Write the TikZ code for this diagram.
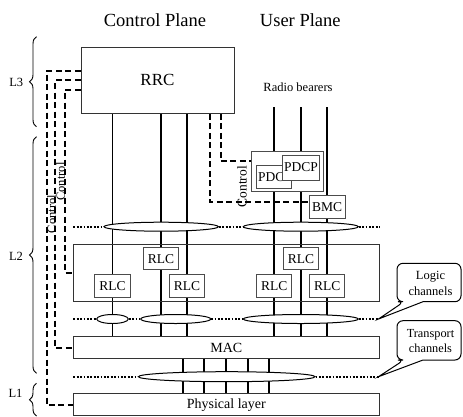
\documentclass[tikz,border=0pt]{standalone}
\usepackage{fontspec}
\setmainfont{Liberation Serif}
\usetikzlibrary{decorations.pathreplacing,calc,shapes.geometric,backgrounds}
\begin{document}
\begin{tikzpicture}[x=1pt,y=-1pt,
  bigbox/.style={draw=black!80, line width=1pt, inner sep=0pt, font=\fontsize{14}{16}\selectfont},
  box/.style={draw=black!70, line width=1pt, fill=white, inner sep=0pt, minimum width=35.4pt, minimum height=22.4pt, font=\fontsize{13.5}{15}\selectfont},
  chan/.style={line width=1.8pt},
  ctrl/.style={line width=2pt, dash pattern=on 6pt off 3.5pt},
  dots/.style={line width=2pt, dash pattern=on 1.8pt off 1.6pt},
  ell/.style={ellipse, draw, fill=white, line width=1pt, inner sep=0pt, minimum height=9pt},
  lbl/.style={font=\fontsize{12.5}{16}\selectfont, inner sep=0pt},
  callout/.style={line width=1pt},
  lbrace/.style={decorate, decoration={brace, amplitude=7pt}, line width=0.9pt}
]
\useasboundingbox (0,0) rectangle (463,416);

% titles
\node[anchor=base, font=\fontsize{18.5}{20}\selectfont, inner sep=0pt] (cp) at (155,26) {Control Plane};
\node[anchor=base, font=\fontsize{18.5}{20}\selectfont, inner sep=0pt] (up) at (300.3,26) {User Plane};

% layer braces
\node[anchor=base, lbl] (l3) at (16.3,86.7) {L3};
\node[anchor=base, lbl] (l2) at (16,260.7) {L2};
\node[anchor=base, lbl] (l1) at (15.5,397.5) {L1};
\coordinate (b3a) at (36.5,126.7); \coordinate (b3b) at (36.5,36.7);
\coordinate (b2a) at (36.5,373.3); \coordinate (b2b) at (36.5,136.7);
\coordinate (b1a) at (36.5,416);   \coordinate (b1b) at (36.5,383.3);
\draw[lbrace] (b3a) -- (b3b);
\draw[lbrace] (b2a) -- (b2b);
\draw[lbrace] (b1a) -- (b1b);

% main boxes
\node[bigbox, minimum width=153pt, minimum height=66.3pt, font=\fontsize{17}{18}\selectfont] (rrc) at (157.5,80.2) {RRC};
\node[anchor=base, lbl] (rb) at (298,91.7) {Radio bearers};
\node[bigbox, minimum width=306pt, minimum height=57.4pt] (cont) at (226.3,273) {};
\node[bigbox, fill=white, minimum width=306pt, minimum height=21.8pt] (mac) at (226.3,347.6) {MAC};
\node[bigbox, fill=white, minimum width=306pt, minimum height=21.5pt] (phy) at (226.3,404.7) {Physical layer};

% RLC boxes
\node[box] (rlcm1) at (160.9,258.7) {RLC};
\node[box] (rlcm2) at (300.9,258.7) {RLC};
\node[box] (rlc1) at (112.5,285.9) {RLC};
\node[box] (rlc2) at (187,285.9) {RLC};
\node[box] (rlc3) at (274.2,285.9) {RLC};
\node[box] (rlc4) at (327.2,285.9) {RLC};

% PDCP / BMC
\node[box, minimum width=71.6pt, minimum height=40pt] (pdcout) at (287.5,171.7) {};
\node[box, minimum width=35.7pt, minimum height=23.3pt, text depth=0pt] (pdcback) at (273.9,176.7) {\hspace*{2pt}PDCP};
\node[box, minimum width=36.6pt, minimum height=25pt] (pdcp) at (301,167.5) {PDCP};
\node[box, minimum width=35.7pt, minimum height=22.6pt] (bmc) at (327.2,207) {BMC};

% channel lines (behind boxes)
\coordinate (xa) at (112.4,0);
\coordinate (xb) at (161,0);
\coordinate (xc) at (186.8,0);
\coordinate (rb1) at (274,107);
\coordinate (rb2) at (300.8,107);
\coordinate (rb3) at (326.9,107);
\coordinate (t1) at (183,0);
\coordinate (t2) at (204.3,0);
\coordinate (t3) at (226,0);
\coordinate (t4) at (247.7,0);
\coordinate (t5) at (269.3,0);
\begin{pgfonlayer}{background}
\draw[chan] (rrc.south -| xa) -- (mac.north -| xa);
\draw[chan] (rrc.south -| xb) -- (mac.north -| xb);
\draw[chan] (rrc.south -| xc) -- (mac.north -| xc);
\draw[chan] (rb1) -- (mac.north -| rb1);
\draw[chan] (rb2) -- (mac.north -| rb2);
\draw[chan] (rb3) -- (mac.north -| rb3);
\draw[chan] (mac.south -| t1) -- (phy.north -| t1);
\draw[chan] (mac.south -| t2) -- (phy.north -| t2);
\draw[chan] (mac.south -| t3) -- (phy.north -| t3);
\draw[chan] (mac.south -| t4) -- (phy.north -| t4);
\draw[chan] (mac.south -| t5) -- (phy.north -| t5);
\end{pgfonlayer}

% ellipses
\node[ell, minimum width=114.4pt] (e1) at (161.2,226.7) {};
\node[ell, minimum width=115pt] (e2) at (300.8,226.7) {};
\node[ell, minimum width=31.6pt] (g1) at (112.5,319) {};
\node[ell, minimum width=70pt] (g2) at (175.7,319) {};
\node[ell, minimum width=115pt] (g3) at (300.8,319) {};
\node[ell, minimum width=176.7pt, minimum height=10pt] (tr) at (226.7,376.7) {};

% dotted lines
\coordinate (d0) at (73.3,226.7);
\coordinate (d1) at (379.3,226.7);
\coordinate (d2) at (73.3,319);
\coordinate (d3) at (73.3,376.7);
\draw[dots] (d0) -- (e1.west);
\draw[dots] (e1.east) -- (e2.west);
\draw[dots] (e2.east) -- (d1);
\draw[dots] (d2) -- (g1.west);
\draw[dots] (g1.east) -- (g2.west);
\draw[dots] (g2.east) -- (g3.west);
\draw[dots] (d3) -- (tr.west);

% callouts
\node[lbl, align=center] (logic) at (430.5,283.5) {Logic\\channels};
\node[lbl, align=center, font=\fontsize{12.3}{15.4}\selectfont] (transp) at (430.5,341) {Transport\\channels};
\coordinate (ltip) at (378.5,319);
\coordinate (ttip) at (378.5,376.7);
\draw[dots] (g3.east) -- (ltip);
\draw[dots] (tr.east) -- (ttip);
\draw[callout] (404,301.7) -- (ltip) -- (423,301.7) [rounded corners=6pt] -- (461,301.7) -- (461,263.3) -- (397,263.3) -- (397,301.7) -- cycle;
\draw[callout] (404,360) -- (ttip) -- (423,360) [rounded corners=6pt] -- (461,360) -- (461,320.7) -- (397,320.7) -- (397,360) -- cycle;

% control (dashed) connections
\coordinate (yd4) at (0,161);
\coordinate (yd5) at (0,202.3);
\draw[ctrl] ($(rrc.north west)+(0,24)$) -- ++(-34,0) |- (phy.west);
\draw[ctrl] ($(rrc.north west)+(0,33.7)$) -- ++(-25.7,0) |- (mac.west);
\draw[ctrl] ($(rrc.north west)+(0,43)$) -- ++(-15.5,0) |- (cont.west);
\draw[ctrl] ($(rrc.south west)+(140,0)$) |- (pdcout.west |- yd4);
\draw[ctrl] ($(rrc.south west)+(129.7,0)$) |- (bmc.west |- yd5);

% control labels
\node[lbl, rotate=90] (c1) at (51.5,214) {Control};
\node[lbl, rotate=90] (c2) at (60.5,181.5) {Control};
\node[rotate=90, inner sep=0pt, font=\fontsize{13.5}{15}\selectfont] (c3) at (242,186.7) {Control};
\end{tikzpicture}
\end{document}
